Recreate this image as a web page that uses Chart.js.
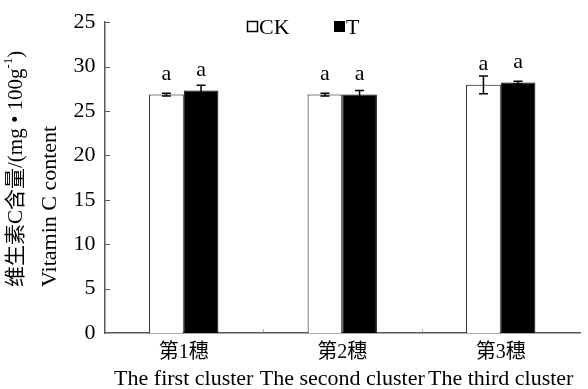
<!DOCTYPE html>
<html>
<head>
<meta charset="utf-8">
<script src="https://cdn.jsdelivr.net/npm/chart.js@4.4.1/dist/chart.umd.min.js"></script>
<style>
  html, body { margin: 0; padding: 0; background: #ffffff; }
  canvas { display: block; }
</style>
</head>
<body>
<canvas id="chart" width="588" height="389"></canvas>
<script>
// Categories (two-line labels: Chinese above, English below)
const clustersZh = ['第1穗', '第2穗', '第3穗'];
const clustersEn = ['The first cluster', 'The second cluster', 'The third cluster'];

// Vitamin C content, mg·100g⁻¹
const ckValues = [26.85, 26.85, 27.95];
const ckErrors = [0.15, 0.15, 1.0];
const tValues  = [27.3, 26.85, 28.2];
const tErrors  = [0.6, 0.45, 0.15];

// Significance letters
const ckLetters = ['a', 'a', 'a'];
const tLetters  = ['a', 'a', 'a'];

// Y tick labels as printed on the axis
const yTickLabels = ['0', '5', '10', '15', '20', '25', '30', '25'];

const seriesNames = ['CK', 'T'];

const SERIF = "'Liberation Serif', 'Times New Roman', 'Noto Sans CJK SC', serif";
const AXIS_COLOR = '#595959';

Chart.defaults.font.family = SERIF;
Chart.defaults.color = '#000';

const extras = {
  id: 'extras',
  afterDatasetsDraw(chart) {
    const ctx = chart.ctx;
    const y = chart.scales.y;

    // error bars + significance letters
    const sets = [
      { values: ckValues, errors: ckErrors, letters: ckLetters },
      { values: tValues, errors: tErrors, letters: tLetters }
    ];
    sets.forEach((s, di) => {
      const meta = chart.getDatasetMeta(di);
      meta.data.forEach((bar, j) => {
        const cx = bar.x;
        const top = y.getPixelForValue(s.values[j] + s.errors[j]);
        const bot = y.getPixelForValue(s.values[j] - s.errors[j]);
        ctx.save();
        ctx.strokeStyle = '#000';
        ctx.lineWidth = 1.5;
        ctx.beginPath();
        ctx.moveTo(cx, top); ctx.lineTo(cx, bot);
        ctx.moveTo(cx - 4.5, top); ctx.lineTo(cx + 4.5, top);
        ctx.moveTo(cx - 4.5, bot); ctx.lineTo(cx + 4.5, bot);
        ctx.stroke();
        ctx.fillStyle = '#000';
        ctx.font = '22px ' + SERIF;
        ctx.textAlign = 'center';
        ctx.textBaseline = 'alphabetic';
        ctx.fillText(s.letters[j], cx, y.getPixelForValue(s.values[j]) - 15);
        ctx.restore();
      });
    });
  },
  afterDraw(chart) {
    const ctx = chart.ctx;
    const y = chart.scales.y;
    const x = chart.scales.x;
    const area = chart.chartArea;

    ctx.save();
    // inward y ticks
    ctx.strokeStyle = AXIS_COLOR;
    ctx.lineWidth = 1;
    y.ticks.forEach(t => {
      if (t.value === 0) return;
      const py = Math.round(y.getPixelForValue(t.value)) + 0.5;
      ctx.beginPath();
      ctx.moveTo(area.left, py);
      ctx.lineTo(area.left + 5.5, py);
      ctx.stroke();
    });
    // faint category boundary marks on the x axis
    ctx.strokeStyle = '#b0b0b0';
    for (let i = 1; i < clustersEn.length; i++) {
      const px = Math.round((x.getPixelForValue(i - 1) + x.getPixelForValue(i)) / 2) + 0.5;
      ctx.beginPath();
      ctx.moveTo(px, area.bottom - 1);
      ctx.lineTo(px, area.bottom - 4);
      ctx.stroke();
    }

    // category labels
    ctx.fillStyle = '#000';
    ctx.textAlign = 'center';
    clustersEn.forEach((en, i) => {
      const px = x.getPixelForValue(i);
      ctx.font = '20px ' + SERIF;
      ctx.textBaseline = 'middle';
      ctx.fillText(clustersZh[i], px, area.bottom + 20);
      ctx.font = '22px ' + SERIF;
      ctx.textBaseline = 'alphabetic';
      ctx.fillText(en, px, area.bottom + 52);
    });

    // legend
    ctx.textBaseline = 'alphabetic';
    ctx.textAlign = 'left';
    ctx.font = '22px ' + SERIF;
    ctx.lineWidth = 1.5;
    ctx.strokeStyle = '#000';
    ctx.strokeRect(247.5, 21.5, 10, 10);
    ctx.fillText(seriesNames[0], 259, 34);
    ctx.fillRect(334, 21, 11, 11);
    ctx.fillText(seriesNames[1], 346, 34);

    // rotated y-axis titles
    const yStart = 287;
    ctx.save();
    ctx.translate(16, yStart);
    ctx.rotate(-Math.PI / 2);
    ctx.textAlign = 'left';
    ctx.textBaseline = 'middle';
    ctx.font = '21px ' + SERIF;
    const part1 = '维生素C含量/(mg • 100g';
    ctx.fillText(part1, 0, 0);
    let w = ctx.measureText(part1).width;
    ctx.font = '13px ' + SERIF;
    ctx.fillText('-1', w, -7);
    w += ctx.measureText('-1').width;
    ctx.font = '21px ' + SERIF;
    ctx.fillText(')', w, 0);
    ctx.restore();

    ctx.save();
    ctx.translate(50, yStart);
    ctx.rotate(-Math.PI / 2);
    ctx.textAlign = 'left';
    ctx.textBaseline = 'middle';
    ctx.font = '22px ' + SERIF;
    ctx.fillText('Vitamin C content', 0, 0);
    ctx.restore();

    ctx.restore();
  }
};

new Chart(document.getElementById('chart'), {
  type: 'bar',
  data: {
    labels: clustersEn,
    datasets: [
      {
        label: seriesNames[0],
        data: ckValues,
        backgroundColor: '#ffffff',
        borderColor: '#000000',
        borderWidth: 1
      },
      {
        label: seriesNames[1],
        data: tValues,
        backgroundColor: '#000000',
        borderColor: '#000000',
        borderWidth: 1
      }
    ]
  },
  options: {
    responsive: false,
    animation: false,
    devicePixelRatio: 1,
    categoryPercentage: 0.437,
    barPercentage: 1.0,
    layout: { padding: { top: 21, right: 8, left: 0, bottom: 0 } },
    plugins: {
      legend: { display: false },
      tooltip: { enabled: false }
    },
    scales: {
      x: {
        grid: { display: false },
        border: { display: true, color: AXIS_COLOR, width: 1.5 },
        ticks: { display: false },
        afterFit: s => { s.height = 56; }
      },
      y: {
        min: 0,
        max: 35,
        grid: { display: false, drawTicks: false },
        border: { display: true, color: AXIS_COLOR, width: 1.5 },
        ticks: {
          stepSize: 5,
          padding: 9,
          color: '#000',
          font: { family: SERIF, size: 22 },
          callback: (v, i) => yTickLabels[i]
        },
        afterFit: s => { s.width = 104.5; }
      }
    }
  },
  plugins: [extras]
});
</script>
</body>
</html>
